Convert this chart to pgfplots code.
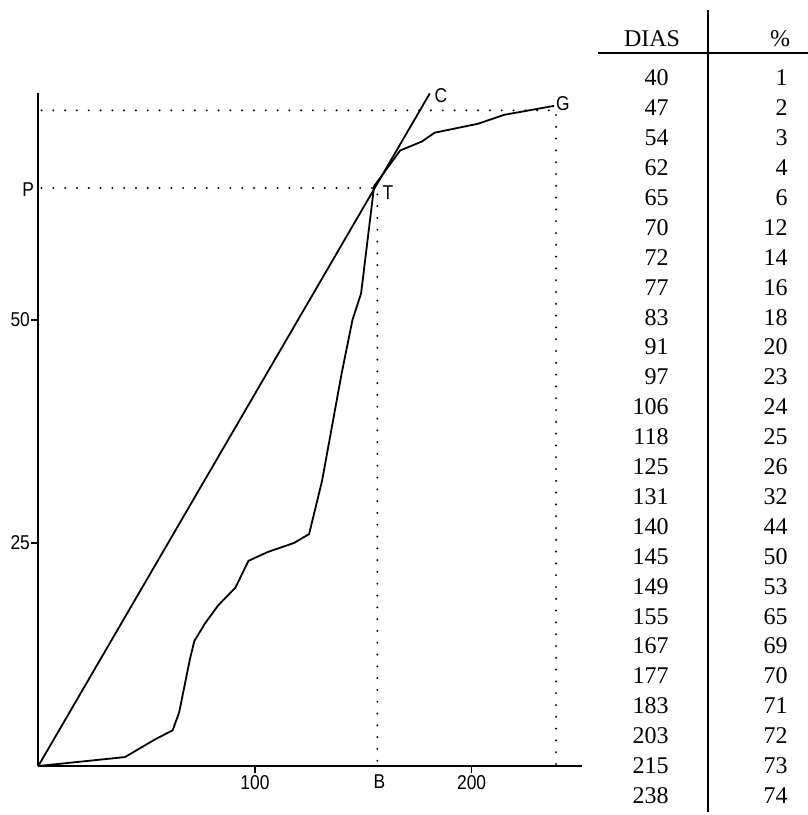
\documentclass[border=0pt]{standalone}
\usepackage{fontspec}
\setmainfont{Liberation Serif}
\newfontfamily\plotfont[FakeStretch=0.87]{Liberation Sans}
\usepackage{pgfplots}
\usepackage{pgfplotstable}
\pgfplotsset{compat=1.18}

\pgfplotstableread{
dias pct
0 0
40 1
47 2
54 3
62 4
65 6
70 12
72 14
77 16
83 18
91 20
97 23
106 24
118 25
125 26
131 32
140 44
145 50
149 53
155 65
167 69
177 70
183 71
203 72
215 73
238 74
}\curvedata

\begin{document}
\begin{tikzpicture}
\useasboundingbox (0,0) rectangle (404pt,-407.5pt);
\begin{axis}[
  at={(19.15pt,-383pt)}, anchor=south west,
  scale only axis, width=271.9pt, height=336.3pt,
  xmin=0, xmax=251, ymin=0, ymax=75.4,
  axis lines*=left,
  axis line style={line width=0.9pt},
  xtick={100,200}, ytick={25,50},
  tick align=outside, major tick length=3.5pt,
  tick style={line width=0.8pt, black},
  tick label style={font=\plotfont\fontsize{10}{12}\selectfont, /pgf/number format/assume math mode=true},
  xticklabel style={inner sep=1pt},
  yticklabel style={inner sep=0.5pt},
  clip=false,
]
\addplot[black, line width=0.9pt, mark=none] table[x=dias, y=pct] {\curvedata};
\addplot[black, line width=0.9pt, mark=none] coordinates {(0,0) (180.7,75.4)};
\addplot[black, line width=1.1pt, line cap=round, dash pattern=on 0pt off 5.9pt, mark=none] coordinates {(1.5,73.5) (239,73.5) (239,0)};
\addplot[black, line width=1.1pt, line cap=round, dash pattern=on 0pt off 5.9pt, mark=none] coordinates {(1.5,64.8) (156.5,64.8) (156.5,0)};
\node[font=\plotfont\fontsize{10}{12}\selectfont] at ([yshift=-8pt]axis cs:157.5,0) {B};
\node[font=\plotfont\fontsize{10}{12}\selectfont] at ([xshift=-5pt]axis cs:0,64.6) {P};
\node[font=\plotfont\fontsize{10}{12}\selectfont] at (axis cs:161.4,64.3) {T};
\node[font=\plotfont\fontsize{10}{12}\selectfont] at (axis cs:185.8,75.2) {C};
\node[font=\plotfont\fontsize{10}{12}\selectfont] at (axis cs:242.1,74.3) {G};
\end{axis}
\begin{scope}[x=0.5pt,y=-0.5pt, font=\fontsize{12}{14}\selectfont]
\draw[line width=1pt] (708,10) -- (708,812);
\draw[line width=0.8pt] (598,53) -- (808,53);
\node at (652,39) {DIAS};
\node at (780,39) {\%};
\foreach \d/\p [count=\i from 0] in {40/1,47/2,54/3,62/4,65/6,70/12,72/14,77/16,83/18,91/20,97/23,106/24,118/25,125/26,131/32,140/44,145/50,149/53,155/65,167/69,177/70,183/71,203/72,215/73,238/74} {
  \node[anchor=east, inner sep=0pt] at (669,{78+\i*29.9}) {\d};
  \node[anchor=east, inner sep=0pt] at (788,{78+\i*29.9}) {\p};
}
\end{scope}
\end{tikzpicture}
\end{document}
